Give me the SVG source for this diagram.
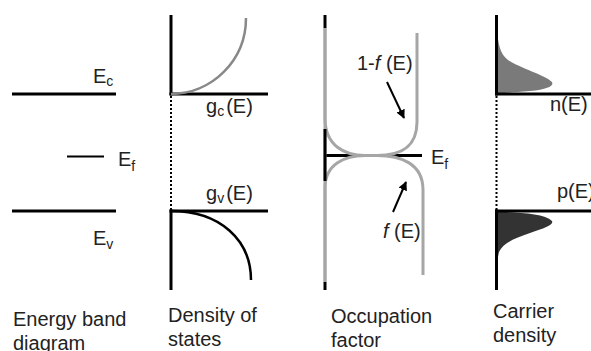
<svg xmlns="http://www.w3.org/2000/svg" width="591" height="351" viewBox="0 0 591 351">
<defs>
<style>
text{font-family:"Liberation Sans",Arial,sans-serif;font-size:20px;fill:#222}
.sub{font-size:14px}
.k{stroke:#000;stroke-width:3;fill:none}
.k2{stroke:#000;stroke-width:2;fill:none}
.dot{stroke:#000;stroke-width:2;stroke-dasharray:2 2;fill:none}
.gr{stroke:#a6a6a6;stroke-width:3;fill:none}
.arr{stroke:#000;stroke-width:2;fill:none;marker-end:url(#ah)}
</style>
<marker id="ah" viewBox="0 0 10 10" refX="9" refY="5" markerWidth="4.5" markerHeight="4.5" orient="auto" markerUnits="strokeWidth">
<path d="M0,0 L10,5 L0,10 Z" fill="#000"/>
</marker>
</defs>

<g id="energy-band">
<line class="k" x1="12" y1="94" x2="116" y2="94"/>
<line class="k2" x1="67" y1="156.5" x2="104" y2="156.5"/>
<line class="k" x1="12" y1="211" x2="116" y2="211"/>
<text x="93" y="83">E<tspan class="sub" font-size="18" dy="3">c</tspan></text>
<text x="118" y="166">E<tspan class="sub" dy="5">f</tspan></text>
<text x="93" y="245">E<tspan class="sub" dy="4">v</tspan></text>
<text x="13" y="326">Energy band</text>
<text x="13" y="349.5">diagram</text>
</g>

<g id="density-of-states">
<line class="k" x1="171" y1="15" x2="171" y2="95.5"/>
<line class="k" x1="169.5" y1="94" x2="268" y2="94"/>
<path d="M171,94 A75,76 0 0 0 246,18" stroke="#888" stroke-width="2.5" fill="none"/>
<line class="dot" x1="171" y1="96" x2="171" y2="210"/>
<line class="k" x1="169.5" y1="211" x2="268" y2="211"/>
<line class="k" x1="171" y1="209.5" x2="171" y2="290"/>
<path d="M171,211 C220,211 251,240 251,280" stroke="#000" stroke-width="2.5" fill="none"/>
<text x="206" y="113">g<tspan class="sub" dy="3">c</tspan><tspan dy="-3" dx="2">(E)</tspan></text>
<text x="206" y="200">g<tspan class="sub" dy="3">v</tspan><tspan dy="-3" dx="2">(E)</tspan></text>
<text x="168" y="322">Density of</text>
<text x="168" y="345.5">states</text>
</g>

<g id="occupation-factor">
<line class="k" x1="325" y1="155.5" x2="422" y2="155.5"/>
<line class="gr" x1="325" y1="28" x2="325" y2="282"/>
<path class="gr" d="M325,28 V118 C325,146 345,155.5 365,155.5 L377,155.5 C400,155.5 423,163 423,190 V275"/>
<path class="gr" d="M417,33 V122 C417,148 400,155.5 377,155.5 L365,155.5 C345,155.5 325,164 325,188 V282"/>
<line class="k" x1="325" y1="15" x2="325" y2="28"/>
<line class="k" x1="325" y1="129" x2="325" y2="181"/>
<line class="k" x1="325" y1="282" x2="325" y2="290"/>
<line class="arr" x1="387" y1="82" x2="404" y2="118"/>
<line class="arr" x1="393" y1="212" x2="406" y2="182"/>
<text x="357" y="70">1-<tspan font-style="italic">f</tspan> (E)</text>
<text x="383" y="238"><tspan font-style="italic">f</tspan> (E)</text>
<text x="431" y="164">E<tspan class="sub" dy="5">f</tspan></text>
<text x="331" y="323">Occupation</text>
<text x="331" y="346.5">factor</text>
</g>

<g id="carrier-density">
<path d="M497,94 L497,28 C498,44 500,54 508,60 C520,68 545,75 552,82 C554,86 548,89 530,91 C515,92 505,93 497,94 Z" fill="#7a7a7a"/>
<path d="M497,212 C515,212 545,213 552,221 C554,225 545,228 530,233 C515,238 503,243 499,252 C498,256 497,262 497,270 Z" fill="#333"/>
<line class="k" x1="496.5" y1="15" x2="496.5" y2="95.5"/>
<line class="k" x1="495" y1="94" x2="591" y2="94"/>
<line class="dot" x1="496.5" y1="96" x2="496.5" y2="210"/>
<line class="k" x1="495" y1="211" x2="591" y2="211"/>
<line class="k" x1="496.5" y1="209.5" x2="496.5" y2="290"/>
<text x="550" y="111">n(E)</text>
<text x="557" y="198">p(E)</text>
<text x="493" y="318">Carrier</text>
<text x="493" y="341.5">density</text>
</g>
</svg>
